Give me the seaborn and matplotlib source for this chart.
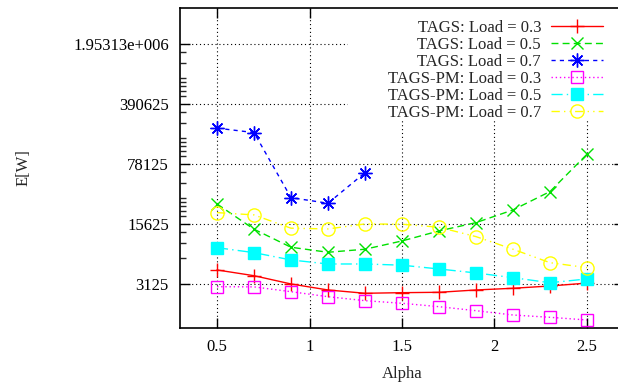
import numpy as np
import pandas as pd
import matplotlib
matplotlib.use("Agg")
import matplotlib.pyplot as plt
import matplotlib.ticker as mticker
from matplotlib.patches import Rectangle
import seaborn as sns

alpha = [0.5, 0.7, 0.9, 1.1, 1.3, 1.5, 1.7, 1.9, 2.1, 2.3, 2.5]
alpha_short = [0.5, 0.7, 0.9, 1.1, 1.3]

tags_03 = [4550, 3900, 3125, 2660, 2435, 2475, 2500, 2660, 2785, 2960, 3200]
tags_05 = [26700, 13560, 8360, 7310, 7930, 9900, 12950, 16180, 22740, 37200, 101300]
tags_07 = [203700, 180900, 31600, 27200, 61800]
pm_03 = [2907, 2890, 2540, 2222, 1997, 1862, 1700, 1527, 1360, 1279, 1190]
pm_05 = [8270, 7240, 5950, 5340, 5340, 5170, 4670, 4200, 3700, 3230, 3575]
pm_07 = [21160, 19900, 13930, 13660, 15625, 15500, 14300, 11120, 7930, 5530, 4840]

labels = ["TAGS: Load = 0.3", "TAGS: Load = 0.5", "TAGS: Load = 0.7",
          "TAGS-PM: Load = 0.3", "TAGS-PM: Load = 0.5", "TAGS-PM: Load = 0.7"]
y_ticks = [3125, 15625, 78125, 390625, 1953125]
y_tick_labels = ["3125", "15625", "78125", "390625", "1.95313e+006"]
x_ticks = [0.5, 1, 1.5, 2, 2.5]
x_tick_labels = ["0.5", "1", "1.5", "2", "2.5"]

sns.set_theme(style="ticks")
plt.rcParams['font.family'] = ['Liberation Serif', 'DejaVu Serif']
plt.rcParams['font.size'] = 12

fig = plt.figure(figsize=(6.18, 3.85), dpi=100)
ax = fig.add_axes([180/618, 57/385, 444/618, 320/385])

series = [
    (alpha, tags_03, dict(color='#ff0000', marker='+', linestyle='-', markersize=10,
                          markeredgecolor='#ff0000')),
    (alpha, tags_05, dict(color='#00e000', marker='x', linestyle=(0, (5, 3)), markersize=9,
                          markeredgecolor='#00e000')),
    (alpha_short, tags_07, dict(color='#0000ff', marker=(8, 2, 0), linestyle=(0, (3, 3)), markersize=10,
                                markeredgecolor='#0000ff')),
    (alpha, pm_03, dict(color='#ff00ff', marker='s', linestyle=(0, (1, 2)), markersize=8.5,
                        markerfacecolor='none', markeredgecolor='#ff00ff')),
    (alpha, pm_05, dict(color='#00ffff', marker='s', linestyle=(0, (8, 3, 1, 3)), markersize=8.5,
                        markerfacecolor='#00ffff', markeredgecolor='#00ffff')),
    (alpha, pm_07, dict(color='#ffff00', marker='o', linestyle=(0, (6, 3, 1, 3, 1, 3)), markersize=9.5,
                        markerfacecolor='none', markeredgecolor='#ffff00')),
]

for (xs, ys, kw), lab in zip(series, labels):
    df = pd.DataFrame({"Alpha": xs, "E": ys})
    sns.lineplot(data=df, x="Alpha", y="E", ax=ax, label=lab, lw=1.0, zorder=3,
                 markeredgewidth=1.0, **kw)

ax.set_yscale('log')
ax.set_xlim(0.3, 2.7)
ax.set_ylim(960, 5.1e6)
ax.set_xticks(x_ticks)
ax.set_xticklabels(x_tick_labels)
ax.set_yticks(y_ticks)
ax.set_yticklabels(y_tick_labels)

minor = []
for i, m in enumerate(y_ticks[:-1]):
    mults = [2, 3, 4] if i == 0 else [1.25, 1.4, 1.6, 1.8, 2, 3, 4]
    minor += [m * f for f in mults]
ax.yaxis.set_minor_locator(mticker.FixedLocator(minor))
ax.yaxis.set_minor_formatter(mticker.NullFormatter())
ax.xaxis.set_minor_locator(mticker.NullLocator())

ax.tick_params(axis='both', which='major', direction='in', length=7, width=1.0,
               top=True, right=True, labelsize=12, colors='black', pad=8)
ax.tick_params(axis='y', which='minor', direction='in', length=4, width=1.0, right=True)
for s in ax.spines.values():
    s.set_linewidth(1.2)
    s.set_color('black')

ax.grid(True, which='major', color='black', linestyle=(0, (1, 2.5)), linewidth=0.8)
ax.set_axisbelow(True)

ax.set_xlabel("Alpha", fontsize=12, labelpad=8)
ax.set_ylabel("E[W]", fontsize=12, labelpad=30)

# blank area behind legend (covers grid)
ax.add_patch(Rectangle((0.378, 0.65), 0.622, 0.35, transform=ax.transAxes,
                       facecolor='white', edgecolor='none', zorder=1.5))

leg = ax.legend(loc='upper right', bbox_to_anchor=(0.952, 0.962), markerfirst=False,
                frameon=False, fontsize=12, handlelength=3.1, handletextpad=0.6,
                labelspacing=0.06, borderaxespad=0, borderpad=0)

fig.savefig("out.png", dpi=100)
